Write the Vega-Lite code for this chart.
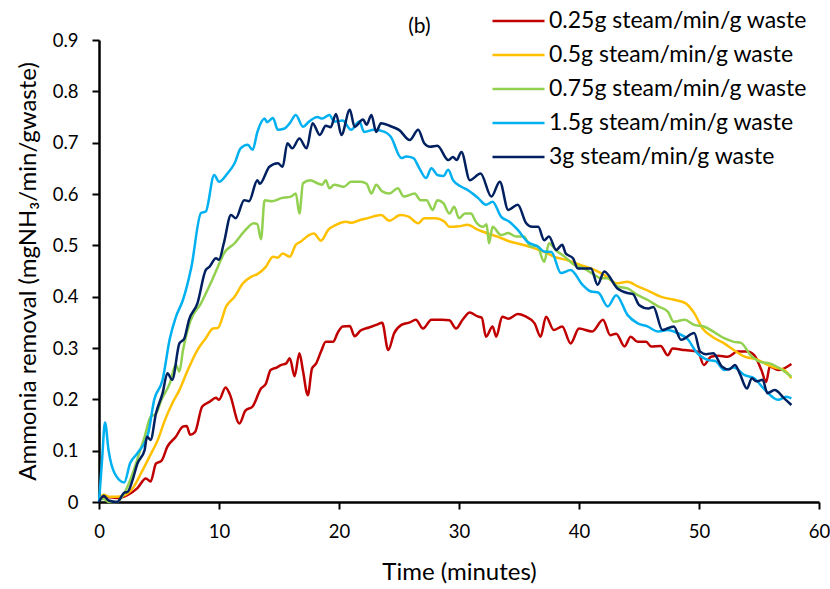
{
  "$schema": "https://vega.github.io/schema/vega-lite/v6.json",
  "width": 720,
  "height": 462,
  "autosize": {"type": "none"},
  "padding": {"left": 99, "top": 40, "right": 11, "bottom": 87},
  "background": "white",
  "config": {
    "view": {"stroke": null},
    "font": "Lato",
    "axis": {
      "grid": false,
      "domainColor": "black",
      "domainWidth": 2.5,
      "tickColor": "black",
      "tickWidth": 2,
      "tickSize": 7,
      "labelColor": "black",
      "titleColor": "black",
      "labelFont": "Lato",
      "titleFont": "Lato",
      "labelFontSize": 18.5,
      "titleFontSize": 24,
      "titleFontWeight": "normal"
    }
  },
  "datasets": {
    "red": [
      {"t":0,"v":0.005},{"t":0.4,"v":0.01},{"t":1.5,"v":0.008},{"t":2.4,"v":0.014},{"t":3.2,"v":0.027},{"t":3.9,"v":0.046},{"t":4.3,"v":0.04},{"t":4.75,"v":0.075},{"t":5.2,"v":0.08},{"t":5.7,"v":0.108},{"t":6.4,"v":0.127},{"t":7.0,"v":0.147},{"t":7.3,"v":0.148},{"t":7.6,"v":0.131},{"t":8.0,"v":0.136},{"t":8.6,"v":0.186},{"t":9.2,"v":0.195},{"t":9.75,"v":0.203},{"t":10.0,"v":0.199},{"t":10.55,"v":0.223},{"t":10.9,"v":0.21},{"t":11.7,"v":0.153},{"t":12.2,"v":0.178},{"t":12.8,"v":0.186},{"t":13.5,"v":0.221},{"t":13.9,"v":0.23},{"t":14.3,"v":0.257},{"t":14.8,"v":0.262},{"t":15.2,"v":0.267},{"t":15.6,"v":0.27},{"t":15.9,"v":0.28},{"t":16.3,"v":0.245},{"t":16.7,"v":0.29},{"t":17.0,"v":0.255},{"t":17.4,"v":0.208},{"t":17.75,"v":0.26},{"t":18.1,"v":0.27},{"t":18.5,"v":0.293},{"t":18.9,"v":0.312},{"t":19.5,"v":0.312},{"t":19.9,"v":0.33},{"t":20.3,"v":0.342},{"t":20.9,"v":0.343},{"t":21.3,"v":0.323},{"t":21.8,"v":0.334},{"t":22.5,"v":0.34},{"t":23.1,"v":0.345},{"t":23.6,"v":0.349},{"t":24.1,"v":0.296},{"t":24.6,"v":0.329},{"t":25.2,"v":0.345},{"t":25.9,"v":0.35},{"t":26.4,"v":0.355},{"t":27.0,"v":0.338},{"t":27.7,"v":0.355},{"t":28.6,"v":0.355},{"t":29.2,"v":0.354},{"t":29.75,"v":0.338},{"t":30.3,"v":0.355},{"t":30.9,"v":0.369},{"t":31.5,"v":0.362},{"t":31.9,"v":0.359},{"t":32.25,"v":0.322},{"t":32.8,"v":0.342},{"t":33.1,"v":0.322},{"t":33.6,"v":0.361},{"t":34.1,"v":0.357},{"t":34.9,"v":0.366},{"t":35.5,"v":0.362},{"t":36.3,"v":0.348},{"t":36.8,"v":0.322},{"t":37.25,"v":0.361},{"t":37.9,"v":0.335},{"t":38.6,"v":0.342},{"t":39.3,"v":0.309},{"t":40.0,"v":0.338},{"t":41.1,"v":0.332},{"t":42.0,"v":0.355},{"t":42.6,"v":0.325},{"t":43.1,"v":0.328},{"t":43.8,"v":0.303},{"t":44.3,"v":0.322},{"t":44.9,"v":0.312},{"t":45.6,"v":0.312},{"t":46.0,"v":0.303},{"t":46.8,"v":0.304},{"t":47.4,"v":0.286},{"t":47.8,"v":0.299},{"t":48.8,"v":0.296},{"t":49.9,"v":0.293},{"t":50.4,"v":0.267},{"t":51.0,"v":0.283},{"t":51.6,"v":0.285},{"t":52.4,"v":0.283},{"t":53.2,"v":0.293},{"t":54.0,"v":0.293},{"t":54.6,"v":0.286},{"t":55.2,"v":0.257},{"t":55.6,"v":0.234},{"t":55.9,"v":0.264},{"t":56.6,"v":0.257},{"t":57.7,"v":0.269}
    ],
    "yellow": [
      {"t":0,"v":0.005},{"t":0.4,"v":0.014},{"t":0.9,"v":0.01},{"t":1.5,"v":0.01},{"t":2.4,"v":0.017},{"t":2.9,"v":0.03},{"t":3.5,"v":0.056},{"t":4.2,"v":0.088},{"t":4.9,"v":0.121},{"t":5.5,"v":0.16},{"t":6.1,"v":0.192},{"t":6.7,"v":0.218},{"t":7.4,"v":0.257},{"t":8.2,"v":0.296},{"t":8.9,"v":0.319},{"t":9.5,"v":0.338},{"t":9.9,"v":0.339},{"t":10.6,"v":0.381},{"t":11.3,"v":0.4},{"t":12.0,"v":0.426},{"t":12.7,"v":0.439},{"t":13.2,"v":0.444},{"t":13.9,"v":0.458},{"t":14.5,"v":0.478},{"t":14.9,"v":0.476},{"t":15.3,"v":0.484},{"t":15.9,"v":0.478},{"t":16.4,"v":0.501},{"t":16.8,"v":0.507},{"t":17.5,"v":0.52},{"t":17.9,"v":0.523},{"t":18.5,"v":0.509},{"t":19.1,"v":0.53},{"t":19.75,"v":0.54},{"t":20.6,"v":0.546},{"t":21.0,"v":0.544},{"t":21.7,"v":0.549},{"t":22.4,"v":0.553},{"t":23.5,"v":0.559},{"t":24.2,"v":0.548},{"t":25.1,"v":0.559},{"t":25.8,"v":0.556},{"t":26.6,"v":0.543},{"t":27.1,"v":0.553},{"t":28.0,"v":0.553},{"t":28.8,"v":0.546},{"t":29.2,"v":0.536},{"t":30.0,"v":0.537},{"t":30.7,"v":0.54},{"t":31.6,"v":0.53},{"t":32.4,"v":0.523},{"t":33.2,"v":0.517},{"t":34.3,"v":0.507},{"t":35.3,"v":0.501},{"t":36.3,"v":0.494},{"t":37.4,"v":0.484},{"t":37.9,"v":0.478},{"t":39.05,"v":0.471},{"t":40.1,"v":0.462},{"t":41.3,"v":0.452},{"t":42.1,"v":0.442},{"t":43.2,"v":0.426},{"t":44.05,"v":0.429},{"t":44.9,"v":0.42},{"t":45.9,"v":0.41},{"t":46.8,"v":0.4},{"t":47.9,"v":0.394},{"t":48.9,"v":0.387},{"t":49.6,"v":0.368},{"t":50.3,"v":0.338},{"t":51.1,"v":0.322},{"t":52.1,"v":0.309},{"t":52.9,"v":0.296},{"t":53.8,"v":0.283},{"t":54.9,"v":0.277},{"t":55.7,"v":0.267},{"t":56.3,"v":0.262},{"t":57.1,"v":0.257},{"t":57.7,"v":0.241}
    ],
    "green": [
      {"t":0,"v":0.005},{"t":0.4,"v":0.006},{"t":0.8,"v":0.0},{"t":1.5,"v":0.0},{"t":2.1,"v":0.017},{"t":2.7,"v":0.049},{"t":3.4,"v":0.098},{"t":3.8,"v":0.127},{"t":4.3,"v":0.166},{"t":4.75,"v":0.172},{"t":5.2,"v":0.199},{"t":5.9,"v":0.231},{"t":6.4,"v":0.267},{"t":6.7,"v":0.254},{"t":7.0,"v":0.296},{"t":7.6,"v":0.352},{"t":8.5,"v":0.387},{"t":9.3,"v":0.426},{"t":9.9,"v":0.458},{"t":10.4,"v":0.484},{"t":11.3,"v":0.504},{"t":12.1,"v":0.527},{"t":12.9,"v":0.543},{"t":13.2,"v":0.541},{"t":13.5,"v":0.512},{"t":13.8,"v":0.588},{"t":14.4,"v":0.586},{"t":15.2,"v":0.592},{"t":16.0,"v":0.595},{"t":16.4,"v":0.601},{"t":16.7,"v":0.562},{"t":17.0,"v":0.621},{"t":17.6,"v":0.627},{"t":18.2,"v":0.621},{"t":18.6,"v":0.618},{"t":18.9,"v":0.627},{"t":19.2,"v":0.611},{"t":19.6,"v":0.618},{"t":20.4,"v":0.614},{"t":21.0,"v":0.624},{"t":21.8,"v":0.624},{"t":22.3,"v":0.62},{"t":22.7,"v":0.601},{"t":23.1,"v":0.618},{"t":23.6,"v":0.605},{"t":24.2,"v":0.601},{"t":24.9,"v":0.611},{"t":25.4,"v":0.595},{"t":26.3,"v":0.601},{"t":26.8,"v":0.588},{"t":27.3,"v":0.588},{"t":27.8,"v":0.569},{"t":28.2,"v":0.588},{"t":28.7,"v":0.582},{"t":29.2,"v":0.562},{"t":29.6,"v":0.575},{"t":30.0,"v":0.553},{"t":30.5,"v":0.562},{"t":31.0,"v":0.562},{"t":31.4,"v":0.546},{"t":32.0,"v":0.536},{"t":32.3,"v":0.541},{"t":32.5,"v":0.504},{"t":32.8,"v":0.536},{"t":33.5,"v":0.52},{"t":34.1,"v":0.524},{"t":34.75,"v":0.517},{"t":35.4,"v":0.517},{"t":36.0,"v":0.497},{"t":36.5,"v":0.499},{"t":37.1,"v":0.468},{"t":37.5,"v":0.504},{"t":38.1,"v":0.49},{"t":38.8,"v":0.478},{"t":39.6,"v":0.462},{"t":40.4,"v":0.455},{"t":41.3,"v":0.442},{"t":41.8,"v":0.436},{"t":42.4,"v":0.436},{"t":43.2,"v":0.42},{"t":44.05,"v":0.416},{"t":44.9,"v":0.403},{"t":45.7,"v":0.394},{"t":46.6,"v":0.381},{"t":47.4,"v":0.371},{"t":47.9,"v":0.351},{"t":48.8,"v":0.355},{"t":49.6,"v":0.345},{"t":50.4,"v":0.342},{"t":51.2,"v":0.332},{"t":52.1,"v":0.319},{"t":52.9,"v":0.312},{"t":53.5,"v":0.31},{"t":54.3,"v":0.286},{"t":55.1,"v":0.273},{"t":55.9,"v":0.27},{"t":56.75,"v":0.26},{"t":57.7,"v":0.244}
    ],
    "lightblue": [
      {"t":0,"v":0.0},{"t":0.25,"v":0.08},{"t":0.5,"v":0.155},{"t":0.8,"v":0.1},{"t":1.3,"v":0.056},{"t":2.1,"v":0.038},{"t":2.6,"v":0.076},{"t":3.2,"v":0.095},{"t":4.1,"v":0.134},{"t":4.6,"v":0.199},{"t":5.3,"v":0.238},{"t":5.9,"v":0.318},{"t":6.4,"v":0.36},{"t":7.0,"v":0.394},{"t":7.7,"v":0.458},{"t":8.5,"v":0.563},{"t":8.9,"v":0.566},{"t":9.6,"v":0.637},{"t":10.0,"v":0.624},{"t":10.7,"v":0.64},{"t":11.3,"v":0.66},{"t":11.8,"v":0.689},{"t":12.4,"v":0.696},{"t":12.8,"v":0.686},{"t":13.2,"v":0.721},{"t":13.8,"v":0.747},{"t":14.0,"v":0.74},{"t":14.5,"v":0.748},{"t":14.9,"v":0.725},{"t":15.4,"v":0.727},{"t":15.9,"v":0.738},{"t":16.4,"v":0.754},{"t":17.0,"v":0.731},{"t":17.5,"v":0.741},{"t":18.2,"v":0.75},{"t":18.6,"v":0.747},{"t":19.2,"v":0.754},{"t":19.6,"v":0.741},{"t":20.3,"v":0.743},{"t":21.0,"v":0.725},{"t":21.7,"v":0.741},{"t":22.1,"v":0.721},{"t":22.9,"v":0.725},{"t":23.8,"v":0.721},{"t":24.3,"v":0.712},{"t":25.2,"v":0.67},{"t":25.6,"v":0.673},{"t":26.2,"v":0.67},{"t":26.7,"v":0.65},{"t":27.25,"v":0.631},{"t":27.7,"v":0.65},{"t":28.2,"v":0.637},{"t":28.7,"v":0.635},{"t":29.1,"v":0.647},{"t":29.5,"v":0.627},{"t":30.2,"v":0.614},{"t":30.7,"v":0.608},{"t":31.6,"v":0.592},{"t":32.25,"v":0.579},{"t":32.8,"v":0.585},{"t":33.5,"v":0.556},{"t":34.2,"v":0.546},{"t":34.9,"v":0.53},{"t":35.7,"v":0.507},{"t":36.6,"v":0.497},{"t":37.1,"v":0.488},{"t":37.7,"v":0.487},{"t":38.5,"v":0.446},{"t":39.3,"v":0.452},{"t":40.3,"v":0.423},{"t":41.0,"v":0.41},{"t":41.6,"v":0.408},{"t":42.4,"v":0.381},{"t":43.1,"v":0.403},{"t":44.05,"v":0.364},{"t":44.9,"v":0.348},{"t":45.7,"v":0.342},{"t":46.6,"v":0.332},{"t":47.4,"v":0.335},{"t":48.2,"v":0.329},{"t":49.1,"v":0.316},{"t":49.75,"v":0.293},{"t":50.7,"v":0.277},{"t":51.4,"v":0.274},{"t":52.1,"v":0.257},{"t":52.9,"v":0.262},{"t":53.8,"v":0.247},{"t":54.6,"v":0.241},{"t":55.4,"v":0.221},{"t":56.6,"v":0.199},{"t":57.25,"v":0.205},{"t":57.7,"v":0.202}
    ],
    "navy": [
      {"t":0,"v":0.0},{"t":0.4,"v":0.012},{"t":0.8,"v":0.003},{"t":1.5,"v":0.0},{"t":2.1,"v":0.018},{"t":2.4,"v":0.02},{"t":2.8,"v":0.043},{"t":3.2,"v":0.075},{"t":3.8,"v":0.101},{"t":4.0,"v":0.127},{"t":4.3,"v":0.121},{"t":4.75,"v":0.173},{"t":5.3,"v":0.212},{"t":5.7,"v":0.251},{"t":6.1,"v":0.238},{"t":6.7,"v":0.309},{"t":7.1,"v":0.318},{"t":7.5,"v":0.355},{"t":8.2,"v":0.387},{"t":8.9,"v":0.452},{"t":9.2,"v":0.458},{"t":9.75,"v":0.475},{"t":10.0,"v":0.472},{"t":10.4,"v":0.504},{"t":11.0,"v":0.559},{"t":11.4,"v":0.553},{"t":12.1,"v":0.588},{"t":12.5,"v":0.586},{"t":13.2,"v":0.627},{"t":13.4,"v":0.62},{"t":14.2,"v":0.653},{"t":14.9,"v":0.66},{"t":15.3,"v":0.653},{"t":15.7,"v":0.699},{"t":16.1,"v":0.689},{"t":16.7,"v":0.708},{"t":17.3,"v":0.689},{"t":17.8,"v":0.738},{"t":18.4,"v":0.715},{"t":18.9,"v":0.733},{"t":19.3,"v":0.73},{"t":19.75,"v":0.756},{"t":20.2,"v":0.715},{"t":20.9,"v":0.764},{"t":21.3,"v":0.731},{"t":22.0,"v":0.745},{"t":22.3,"v":0.735},{"t":22.7,"v":0.754},{"t":23.1,"v":0.721},{"t":23.5,"v":0.738},{"t":24.3,"v":0.732},{"t":25.0,"v":0.725},{"t":25.9,"v":0.705},{"t":26.6,"v":0.725},{"t":27.1,"v":0.699},{"t":27.6,"v":0.692},{"t":28.2,"v":0.694},{"t":29.1,"v":0.666},{"t":29.5,"v":0.672},{"t":29.8,"v":0.666},{"t":30.2,"v":0.682},{"t":30.9,"v":0.627},{"t":31.8,"v":0.64},{"t":32.7,"v":0.595},{"t":33.4,"v":0.624},{"t":34.1,"v":0.569},{"t":34.9,"v":0.579},{"t":35.6,"v":0.543},{"t":36.1,"v":0.536},{"t":36.6,"v":0.536},{"t":37.1,"v":0.51},{"t":37.5,"v":0.517},{"t":38.1,"v":0.491},{"t":38.6,"v":0.501},{"t":38.9,"v":0.484},{"t":39.5,"v":0.475},{"t":39.9,"v":0.455},{"t":41.0,"v":0.455},{"t":41.55,"v":0.423},{"t":42.1,"v":0.449},{"t":43.2,"v":0.416},{"t":44.05,"v":0.407},{"t":44.5,"v":0.405},{"t":45.0,"v":0.384},{"t":45.8,"v":0.377},{"t":46.2,"v":0.38},{"t":46.95,"v":0.335},{"t":47.9,"v":0.342},{"t":48.5,"v":0.316},{"t":49.6,"v":0.329},{"t":50.1,"v":0.293},{"t":50.6,"v":0.288},{"t":51.2,"v":0.29},{"t":51.9,"v":0.264},{"t":52.5,"v":0.258},{"t":53.0,"v":0.267},{"t":53.4,"v":0.25},{"t":54.0,"v":0.221},{"t":54.4,"v":0.241},{"t":54.8,"v":0.235},{"t":55.3,"v":0.238},{"t":55.7,"v":0.212},{"t":56.3,"v":0.218},{"t":57.1,"v":0.202},{"t":57.7,"v":0.189}
    ],
    "note": [{"label": "(b)"}]
  },
  "layer": [
    {
      "encoding": {
        "x": {
          "field": "t",
          "type": "quantitative",
          "scale": {"domain": [0, 60], "nice": false},
          "axis": {"values": [0, 10, 20, 30, 40, 50, 60], "title": "Time (minutes)", "labelPadding": 13, "titlePadding": 20, "labelFlush": false}
        },
        "y": {
          "field": "v",
          "type": "quantitative",
          "scale": {"domain": [0, 0.9], "nice": false},
          "axis": {"values": [0, 0.1, 0.2, 0.3, 0.4, 0.5, 0.6, 0.7, 0.8, 0.9], "format": ".1~f", "title": "Ammonia removal (mgNH₃/min/gwaste)", "labelPadding": 14, "titlePadding": 12, "labelFlush": false}
        }
      },
      "layer": [
        {
          "data": {"name": "red"},
          "mark": {"type": "line", "interpolate": "monotone", "strokeWidth": 2.5},
          "encoding": {
            "color": {
              "datum": "0.25g steam/min/g waste",
              "type": "nominal",
              "scale": {
                "domain": ["0.25g steam/min/g waste", "0.5g steam/min/g waste", "0.75g steam/min/g waste", "1.5g steam/min/g waste", "3g steam/min/g waste"],
                "range": ["#C00000", "#FFC000", "#92D050", "#00B0F0", "#002060"]
              },
              "legend": {
                "orient": "none",
                "legendX": 392,
                "legendY": -36,
                "title": null,
                "padding": 0,
                "symbolType": "stroke",
                "symbolSize": 2704,
                "symbolStrokeWidth": 2.5,
                "labelFont": "Lato",
                "labelFontSize": 23,
                "labelColor": "black",
                "labelOffset": 3,
                "rowPadding": 0,
                "clipHeight": 34,
                "labelLimit": 400
              }
            }
          }
        },
        {
          "data": {"name": "yellow"},
          "mark": {"type": "line", "interpolate": "monotone", "strokeWidth": 2.5},
          "encoding": {"color": {"datum": "0.5g steam/min/g waste", "type": "nominal"}}
        },
        {
          "data": {"name": "green"},
          "mark": {"type": "line", "interpolate": "monotone", "strokeWidth": 2.5},
          "encoding": {"color": {"datum": "0.75g steam/min/g waste", "type": "nominal"}}
        },
        {
          "data": {"name": "lightblue"},
          "mark": {"type": "line", "interpolate": "monotone", "strokeWidth": 2.5},
          "encoding": {"color": {"datum": "1.5g steam/min/g waste", "type": "nominal"}}
        },
        {
          "data": {"name": "navy"},
          "mark": {"type": "line", "interpolate": "monotone", "strokeWidth": 2.5},
          "encoding": {"color": {"datum": "3g steam/min/g waste", "type": "nominal"}}
        }
      ]
    },
    {
      "data": {"name": "note"},
      "mark": {"type": "text", "font": "Lato", "fontSize": 21, "fill": "black", "align": "center", "baseline": "middle", "clip": false},
      "encoding": {
        "x": {
          "datum": 26.7,
          "type": "quantitative",
          "scale": {"domain": [0, 60], "nice": false},
          "axis": {"values": [0, 10, 20, 30, 40, 50, 60], "title": "Time (minutes)", "labelPadding": 13, "titlePadding": 20, "labelFlush": false}
        },
        "y": {
          "datum": 0.926,
          "type": "quantitative",
          "scale": {"domain": [0, 0.9], "nice": false},
          "axis": {"values": [0, 0.1, 0.2, 0.3, 0.4, 0.5, 0.6, 0.7, 0.8, 0.9], "format": ".1~f", "title": "Ammonia removal (mgNH₃/min/gwaste)", "labelPadding": 14, "titlePadding": 12, "labelFlush": false}
        },
        "text": {"field": "label", "type": "nominal"}
      }
    }
  ]
}
